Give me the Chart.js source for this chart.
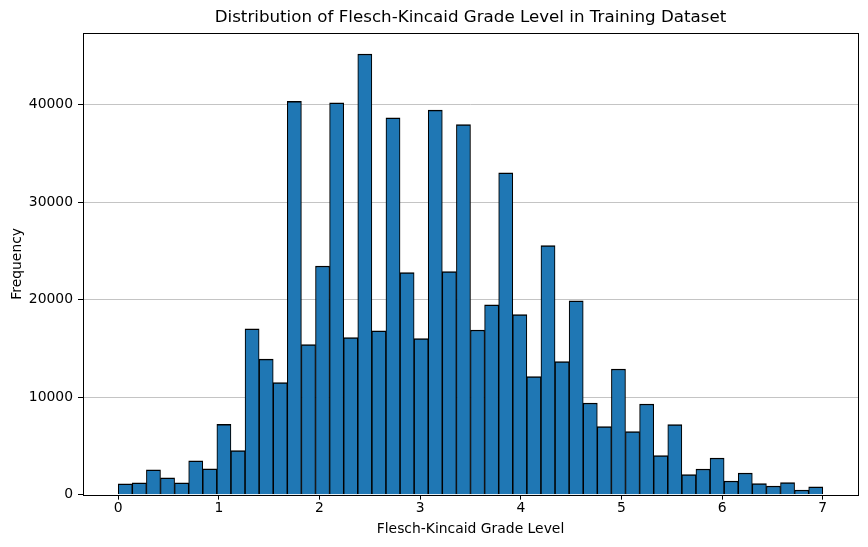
<!DOCTYPE html>
<html>
<head>
<meta charset="utf-8">
<script src="https://cdn.jsdelivr.net/npm/chart.js@4.4.1/dist/chart.umd.min.js"></script>
<style>
  body { margin: 0; background: #fff; }
  #wrap { width: 868px; height: 547px; }
</style>
</head>
<body>
<div id="wrap"><canvas id="histChart"></canvas></div>
<script>
// histogram bins (lower edges, width 0.14) and counts
const binEdges = [
    0.00, 0.14, 0.28, 0.42, 0.56, 0.70, 0.84, 0.98, 1.12, 1.26,
    1.40, 1.54, 1.68, 1.82, 1.96, 2.10, 2.24, 2.38, 2.52, 2.66,
    2.80, 2.94, 3.08, 3.22, 3.36, 3.50, 3.64, 3.78, 3.92, 4.06,
    4.20, 4.34, 4.48, 4.62, 4.76, 4.90, 5.04, 5.18, 5.32, 5.46,
    5.60, 5.74, 5.88, 6.02, 6.16, 6.30, 6.44, 6.58, 6.72, 6.86,
    7.00
];
const counts = [
    1100, 1200, 2540, 1720, 1200, 3470, 2640, 7200, 4530, 17000,
    13900, 11500, 40350, 15400, 23450, 40200, 16100, 45200, 16800, 38650,
    22770, 16000, 39450, 22870, 37950, 16890, 19460, 33000, 18460, 12100,
    25540, 13640, 19870, 9400, 6970, 12890, 6460, 9300, 4000, 7180,
    2050, 2630, 3760, 1400, 2220, 1130, 890, 1230, 480, 790
];
const xTicks = [0, 1, 2, 3, 4, 5, 6, 7];
const yTicks = [0, 10000, 20000, 30000, 40000];

const font = 'DejaVu Sans, Liberation Sans, sans-serif';

/* ---- box around the plot area, like matplotlib spines ---- */
const spines = {
    id: 'spines',
    afterDraw(chart) {
        const { ctx, chartArea: a } = chart;
        ctx.save();
        ctx.strokeStyle = '#000';
        ctx.lineWidth = 1;
        ctx.strokeRect(Math.round(a.left) + 0.5, Math.round(a.top) + 0.5,
            Math.round(a.right - a.left), Math.round(a.bottom - a.top));
        ctx.restore();
    }
};

const points = counts.map((c, i) => ({
    x: (binEdges[i] + binEdges[i + 1]) / 2,
    y: c
}));

new Chart(document.getElementById('histChart').getContext('2d'), {
    type: 'bar',
    data: {
        datasets: [{
            label: 'Frequency',
            data: points,
            backgroundColor: '#1f77b4',
            borderColor: '#000',
            borderWidth: { top: 1.5, left: 1.1, right: 1.1, bottom: 0 },
            barPercentage: 1,
            categoryPercentage: 1
        }]
    },
    options: {
        responsive: true,
        maintainAspectRatio: false,
        animation: false,
        layout: { padding: { left: 4, right: 10, top: 0, bottom: 9 } },
        plugins: {
            legend: { display: false },
            tooltip: { enabled: false },
            title: {
                display: true,
                text: 'Distribution of Flesch-Kincaid Grade Level in Training Dataset',
                fullSize: false,
                color: '#000',
                font: { family: font, size: 16.7, weight: 'normal' },
                padding: { top: 8, bottom: 5 }
            }
        },
        scales: {
            x: {
                type: 'linear',
                offset: false,
                min: -0.35,
                max: 7.35,
                afterBuildTicks: s => { s.ticks = xTicks.map(v => ({ value: v })); },
                grid: {
                    offset: false,
                    drawOnChartArea: false,
                    tickLength: 5,
                    tickColor: '#000'
                },
                border: { display: false },
                ticks: {
                    color: '#000',
                    font: { family: font, size: 13.9 },
                    padding: 0,
                    maxRotation: 0
                },
                title: {
                    display: true,
                    text: 'Flesch-Kincaid Grade Level',
                    color: '#000',
                    font: { family: font, size: 13.9 },
                    padding: { top: 5, bottom: 0 }
                }
            },
            y: {
                min: 0,
                max: 47350,
                z: 1,
                afterBuildTicks: s => { s.ticks = yTicks.map(v => ({ value: v })); },
                afterFit: s => { s.width = 79; },
                grid: {
                    color: c => c.tick && c.tick.value === 0 ? 'rgba(0,0,0,0)' : 'rgba(176,176,176,0.75)',
                    lineWidth: 1,
                    tickLength: 5,
                    tickColor: '#000'
                },
                border: { display: false },
                ticks: {
                    color: '#000',
                    font: { family: font, size: 13.9 },
                    padding: 5,
                    callback: v => String(v)
                },
                title: {
                    display: true,
                    text: 'Frequency',
                    color: '#000',
                    font: { family: font, size: 13.9 },
                    padding: { top: 5, bottom: 0 }
                }
            }
        }
    },
    plugins: [spines]
});
</script>
</body>
</html>
